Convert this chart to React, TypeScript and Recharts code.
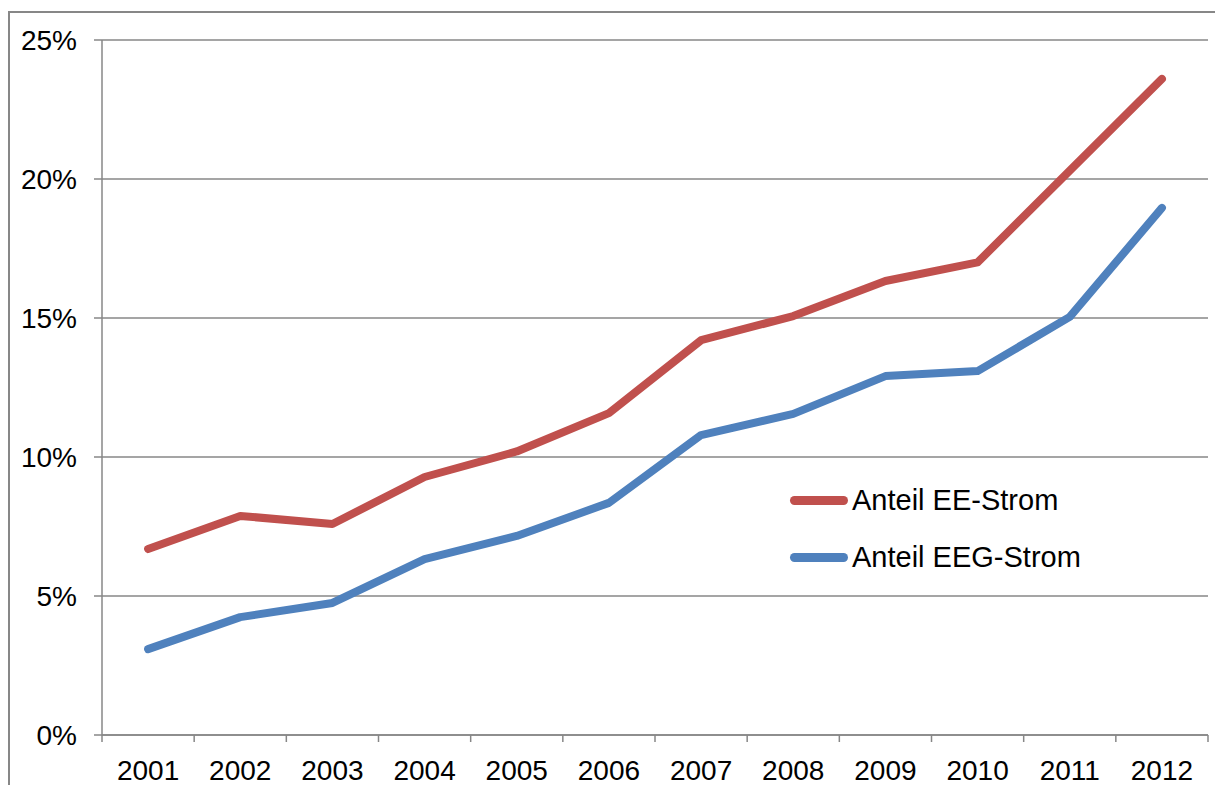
import React from 'react'
import { LineChart, Line, XAxis, YAxis, CartesianGrid } from 'recharts'

const years = ['2001', '2002', '2003', '2004', '2005', '2006', '2007', '2008', '2009', '2010', '2011', '2012']
const anteilEE = [6.69, 7.88, 7.59, 9.28, 10.2, 11.58, 14.2, 15.07, 16.33, 17.0, 20.3, 23.6]
const anteilEEG = [3.09, 4.24, 4.75, 6.33, 7.16, 8.35, 10.79, 11.55, 12.91, 13.09, 15.04, 18.96]
const yTicks = [0, 5, 10, 15, 20, 25]
const seriesNames = ['Anteil EE-Strom', 'Anteil EEG-Strom']

const data = years.map((year, i) => ({ year, ee: anteilEE[i], eeg: anteilEEG[i] }))

const FONT = 'Arial, "Liberation Sans", sans-serif'
const GRAY = '#878787'
const RED = '#C0504D'
const BLUE = '#4F81BD'
const HALF = 46.08

const YearTick = (props: any) => {
    const { x, y, payload, index } = props
    return (
        <g>
            <line x1={x - HALF} y1={y} x2={x - HALF} y2={y + 7} stroke={GRAY} strokeWidth={1.5} />
            {index === years.length - 1 && (
                <line x1={x + HALF} y1={y} x2={x + HALF} y2={y + 7} stroke={GRAY} strokeWidth={1.5} />
            )}
            <text x={x} y={y + 45} textAnchor="middle" fill="#000" fontSize={28} fontFamily={FONT}>
                {payload.value}
            </text>
        </g>
    )
}

const LegendBox = () => {
    const colors = [RED, BLUE]
    return (
        <div style={{ position: 'absolute', left: 790, top: 472 }}>
            {seriesNames.map((label, i) => (
                <div key={label} style={{ display: 'flex', alignItems: 'center', height: 57 }}>
                    <div style={{ width: 58, height: 9, borderRadius: 5, background: colors[i], marginRight: 4 }} />
                    <span style={{ fontFamily: FONT, fontSize: 29, color: '#000' }}>{label}</span>
                </div>
            ))}
        </div>
    )
}

export default function App() {
    return (
        <div style={{ position: 'absolute', left: 0, top: 0, width: 1215, height: 785, overflow: 'hidden', background: '#fff' }}>
            {/* outer frame */}
            <div style={{ position: 'absolute', left: 8, top: 11, width: 1400, height: 1000, border: `2px solid ${GRAY}` }} />
            <div style={{ position: 'absolute', left: 0, top: 0 }}>
                <LineChart width={1215} height={785} data={data} margin={{ top: 40, right: 7, left: 10, bottom: 10 }}>
                    <CartesianGrid vertical={false} stroke={GRAY} strokeWidth={1.5} />
                    <XAxis
                        dataKey="year"
                        padding={{ left: HALF, right: HALF }}
                        height={40}
                        tickLine={false}
                        tickSize={0}
                        tickMargin={0}
                        axisLine={{ stroke: GRAY, strokeWidth: 1.5 }}
                        tick={<YearTick />}
                        interval={0}
                    />
                    <YAxis
                        width={92}
                        domain={[0, 25]}
                        ticks={yTicks}
                        tickFormatter={(v) => `${v}%`}
                        tickSize={8}
                        tickMargin={17}
                        tickLine={{ stroke: GRAY, strokeWidth: 1.5 }}
                        axisLine={{ stroke: GRAY, strokeWidth: 1.5 }}
                        tick={{ fill: '#000', fontSize: 28, fontFamily: FONT }}
                    />
                    <Line name={seriesNames[0]} dataKey="ee" stroke={RED} strokeWidth={8} strokeLinecap="round" strokeLinejoin="round" dot={false} isAnimationActive={false} />
                    <Line name={seriesNames[1]} dataKey="eeg" stroke={BLUE} strokeWidth={8} strokeLinecap="round" strokeLinejoin="round" dot={false} isAnimationActive={false} />
                </LineChart>
            </div>
            <LegendBox />
        </div>
    )
}
